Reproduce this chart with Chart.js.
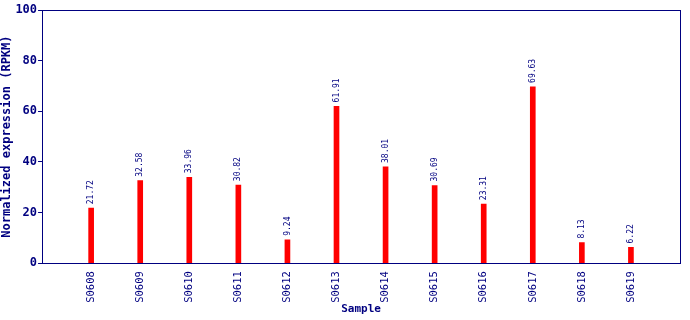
<!DOCTYPE html>
<html>
<head>
<meta charset="utf-8">
<script src="https://cdn.jsdelivr.net/npm/chart.js@4.4.1/dist/chart.umd.min.js"></script>
<style>
  html, body { margin: 0; padding: 0; background: #fff; }
  #wrap { width: 690px; height: 320px; }
</style>
</head>
<body>
<div id="wrap"><canvas id="myChart" width="690" height="320"></canvas></div>
<script>
var samples = ["S0608", "S0609", "S0610", "S0611", "S0612", "S0613", "S0614", "S0615", "S0616", "S0617", "S0618", "S0619"];
var rpkm = [21.72, 32.58, 33.96, 30.82, 9.24, 61.91, 38.01, 30.69, 23.31, 69.63, 8.13, 6.22];
var yTicks = [0, 20, 40, 60, 80, 100];

var navy = "#000080";
var mono = "'DejaVu Sans Mono', 'Liberation Mono', monospace";

// frame round the plot + value labels above bars
var framePlugin = {
  id: "frame",
  afterDatasetsDraw: function(chart) {
    var ctx = chart.ctx, a = chart.chartArea;
    ctx.save();
    ctx.strokeStyle = navy;
    ctx.lineWidth = 1;
    ctx.strokeRect(Math.round(a.left) + 0.5, Math.round(a.top) + 0.5, Math.round(a.right - a.left), Math.round(a.bottom - a.top));

    var meta = chart.getDatasetMeta(0);
    ctx.fillStyle = navy;
    ctx.font = "8px " + mono;
    ctx.textAlign = "left";
    ctx.textBaseline = "middle";
    meta.data.forEach(function(bar, i) {
      ctx.save();
      ctx.translate(bar.x, bar.y - 4);
      ctx.rotate(-Math.PI / 2);
      ctx.fillText(rpkm[i].toFixed(2), 0, 0);
      ctx.restore();
    });
    ctx.restore();
  }
};

var ctx = document.getElementById("myChart").getContext("2d");
var myChart = new Chart(ctx, {
  type: "bar",
  data: {
    datasets: [{
      label: "RPKM",
      data: rpkm.map(function(v, i) { return { x: i, y: v }; }),
      backgroundColor: "#ff0000",
      borderWidth: 0,
      barThickness: 5
    }]
  },
  options: {
    responsive: false,
    animation: false,
    layout: { padding: { top: 10, right: 10, left: 0, bottom: 4 } },
    plugins: {
      legend: { display: false },
      tooltip: { enabled: false }
    },
    scales: {
      x: {
        type: "linear",
        min: -1,
        max: 12,
        offset: false,
        afterBuildTicks: function(axis) {
          axis.ticks = samples.map(function(s, i) { return { value: i }; });
        },
        ticks: {
          autoSkip: false,
          maxRotation: 90,
          minRotation: 90,
          color: navy,
          font: { family: mono, size: 10.5 },
          padding: 0,
          callback: function(v) { return samples[v] || ""; }
        },
        grid: { display: false },
        border: { display: false },
        title: {
          display: true,
          text: "Sample",
          color: navy,
          font: { family: mono, size: 11, weight: "bold" },
          padding: { top: 0, bottom: 0 }
        }
      },
      y: {
        min: 0,
        max: 100,
        afterBuildTicks: function(axis) {
          axis.ticks = yTicks.map(function(v) { return { value: v }; });
        },
        ticks: {
          color: navy,
          font: { family: mono, size: 12, weight: "bold" },
          padding: 1
        },
        grid: {
          drawOnChartArea: false,
          color: navy,
          tickLength: 4
        },
        border: { display: false },
        title: {
          display: true,
          text: "Normalized expression (RPKM)",
          color: navy,
          font: { family: mono, size: 12, weight: "bold" },
          padding: { top: 0, bottom: 0 }
        }
      }
    }
  },
  plugins: [framePlugin]
});
</script>
</body>
</html>
